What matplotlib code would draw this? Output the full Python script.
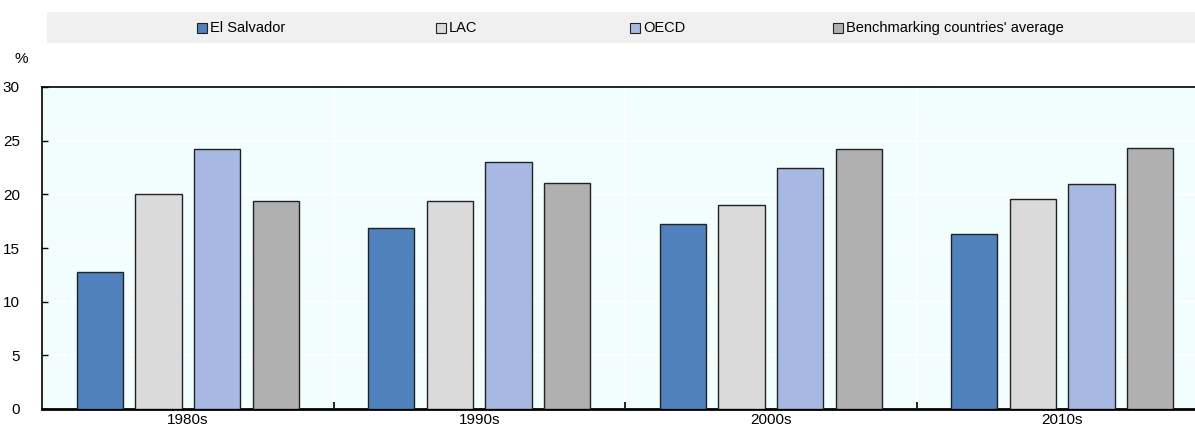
import matplotlib
matplotlib.use("Agg")
import matplotlib.pyplot as plt
from matplotlib.patches import Rectangle
import numpy as np

plt.rcParams['font.family'] = ['Liberation Sans', 'DejaVu Sans']

decades = ["1980s", "1990s", "2000s", "2010s"]
series_names = ["El Salvador", "LAC", "OECD", "Benchmarking countries' average"]
el_salvador = [12.8, 16.9, 17.25, 16.3]
lac = [20.05, 19.4, 19.0, 19.6]
oecd = [24.2, 23.0, 22.5, 20.95]
benchmark = [19.4, 21.05, 24.2, 24.3]
y_ticks = [0, 5, 10, 15, 20, 25, 30]

colors = ["#4f81bd", "#dadada", "#a7b9e3", "#b0b0b0"]
values = [el_salvador, lac, oecd, benchmark]

W, H = 1195, 430
fig = plt.figure(figsize=(W / 100, H / 100), dpi=100)

# axes box in pixel terms
left_px, right_px, top_px, bottom_px = 42, 1195, 87, 409
ax = fig.add_axes([left_px / W, 1 - bottom_px / H,
                   (right_px - left_px) / W, (bottom_px - top_px) / H])
ax.set_facecolor("#f2fefe")

x = np.arange(len(decades))
pitch = 0.2013
width = 0.159
for i, (vals, col) in enumerate(zip(values, colors)):
    ax.bar(x + (i - 1.5) * pitch, vals, width=width, color=col,
           edgecolor="#222222", linewidth=1.0, zorder=3)

# category span 291.5 px; plot area is clipped at the right edge
cat_px = 291.5
ax.set_xlim(-0.5, -0.5 + (right_px - left_px) / cat_px)
ax.set_ylim(0, 30)

ax.set_yticks(y_ticks)
ax.yaxis.grid(True, color="white", linewidth=1.2, zorder=0)
ax.set_xticks(x)
ax.set_xticklabels(decades)
ax.set_xticks(x[:-1] + 0.5, minor=True)
ax.xaxis.grid(True, which="minor", color="white", linewidth=1.2, zorder=0)
ax.tick_params(axis="x", which="major", length=0, labelsize=11, pad=3)
ax.tick_params(axis="x", which="minor", direction="in", length=5, width=1.2, color="black")
ax.tick_params(axis="y", direction="in", length=4, width=1, color="black",
               labelsize=11, pad=16)
for lbl in ax.get_yticklabels():
    lbl.set_horizontalalignment("right")

for side in ["left", "top"]:
    ax.spines[side].set_linewidth(1.2)
ax.spines["bottom"].set_linewidth(2)
ax.spines["right"].set_visible(False)

fig.text(21.5 / W, 1 - 59 / H, "%", fontsize=11, ha="center", va="center")

# legend band
fig.patches.append(Rectangle((47 / W, 1 - 43 / H), (W - 47) / W, 31 / H,
                             transform=fig.transFigure, facecolor="#f0f0f0",
                             edgecolor="none", zorder=0))
marker_x = [197, 436, 630, 833]
for mx, name, col in zip(marker_x, series_names, colors):
    fig.patches.append(Rectangle((mx / W, 1 - 33 / H), 10 / W, 10 / H,
                                 transform=fig.transFigure, facecolor=col,
                                 edgecolor="#222222", linewidth=0.8, zorder=2))
    fig.text((mx + 13) / W, 1 - 28 / H, name, fontsize=10.5, ha="left", va="center")

fig.savefig("out.png", dpi=100)
